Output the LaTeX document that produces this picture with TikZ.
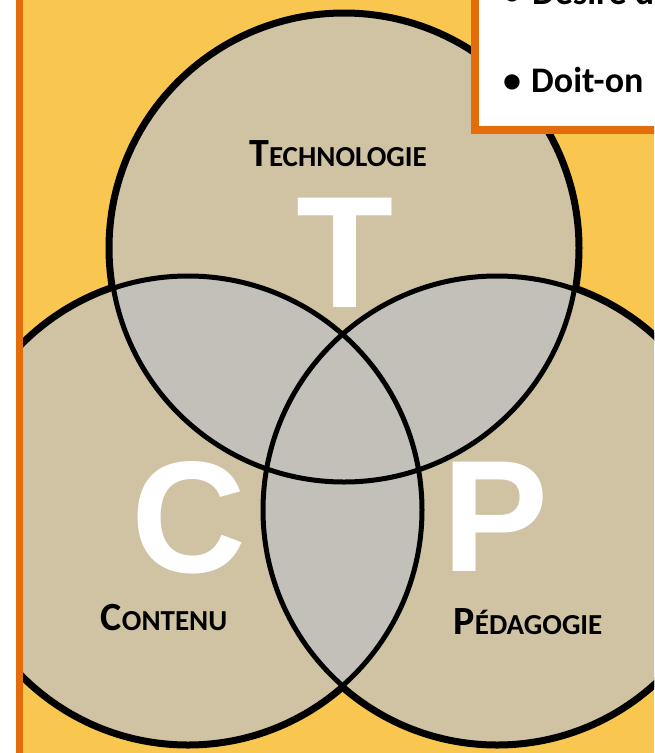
\documentclass[tikz,border=0pt]{standalone}
\usepackage{fontspec}
\setmainfont{Carlito}
\newfontfamily\bigfont{Liberation Sans}
\definecolor{bgyellow}{HTML}{F9C74F}
\definecolor{borange}{HTML}{E46C0A}
\definecolor{circtan}{HTML}{CFC3A4}
\definecolor{lapgray}{HTML}{C2C0B8}
\tikzset{
  bigletter/.style={text=white,inner sep=0pt,anchor=base,font=\bigfont\bfseries\fontsize{159}{159}\selectfont},
  label/.style={text=black,inner sep=0pt,anchor=base,font=\bfseries},
  boxtext/.style={text=black,inner sep=0pt,anchor=base west,font=\bfseries\fontsize{36}{36}\selectfont},
  thickring/.style={draw=black,line width=9},
  thinring/.style={draw=black,line width=5}
}
\newcommand{\myLargeCap}[1]{{\fontsize{40}{40}\selectfont #1}}
\newcommand{\mySmallCap}[1]{{\fontsize{29}{29}\selectfont #1}}
\begin{document}
\begin{tikzpicture}[x=1pt,y=-1pt]
\useasboundingbox (0,0) rectangle (654,753);
\clip (0,0) rectangle (654,753);
\fill[white] (0,0) rectangle (654,753);
\fill[bgyellow] (23,0) rectangle (654,753);
\fill[borange] (16,0) rectangle (23,753);
\coordinate (cT) at (344,248);
\coordinate (cC) at (188,510);
\coordinate (cP) at (497,510);
\def\R{234}
\begin{scope}
  \clip (23,0) rectangle (654,753);
  \draw[thickring] (cT) circle[radius=\R];
  \draw[thickring] (cC) circle[radius=\R];
  \draw[thickring] (cP) circle[radius=\R];
  \fill[circtan] (cT) circle[radius=\R];
  \fill[circtan] (cC) circle[radius=\R];
  \fill[circtan] (cP) circle[radius=\R];
  \begin{scope}
    \clip (cT) circle[radius=\R];
    \fill[lapgray] (cC) circle[radius=\R];
    \fill[lapgray] (cP) circle[radius=\R];
  \end{scope}
  \begin{scope}
    \clip (cC) circle[radius=\R];
    \fill[lapgray] (cP) circle[radius=\R];
  \end{scope}
  \draw[thinring] (cT) circle[radius=\R];
  \draw[thinring] (cC) circle[radius=\R];
  \draw[thinring] (cP) circle[radius=\R];
\end{scope}
% big letters
\node[bigletter] (bigT) at (345,307) {T};
\node[bigletter] (bigC) at (189,572) {C};
\node[bigletter] (bigP) at (496,571) {P};
% labels
\node[label] (techno) at (338,166) {\myLargeCap{T}\mySmallCap{ECHNOLOGIE}};
\node[label] (contenu) at (164,630) {\myLargeCap{C}\mySmallCap{ONTENU}};
\node[label] (pedago) at (528,634) {\myLargeCap{P}\mySmallCap{ÉDAGOGIE}};
% white box top right
\node[draw=borange,fill=white,line width=8,inner sep=0pt,anchor=south west,minimum width=240,minimum height=170] (box) at (471,134) {};
\node[boxtext,anchor=base] (bul1) at (512,4) {•};
\node[boxtext] (line1) at (532,4) {Désiré d};
\node[boxtext,anchor=base] (bul2) at (512,92) {•};
\node[boxtext] (line2) at (531,92) {Doit-on};
\end{tikzpicture}
\end{document}
